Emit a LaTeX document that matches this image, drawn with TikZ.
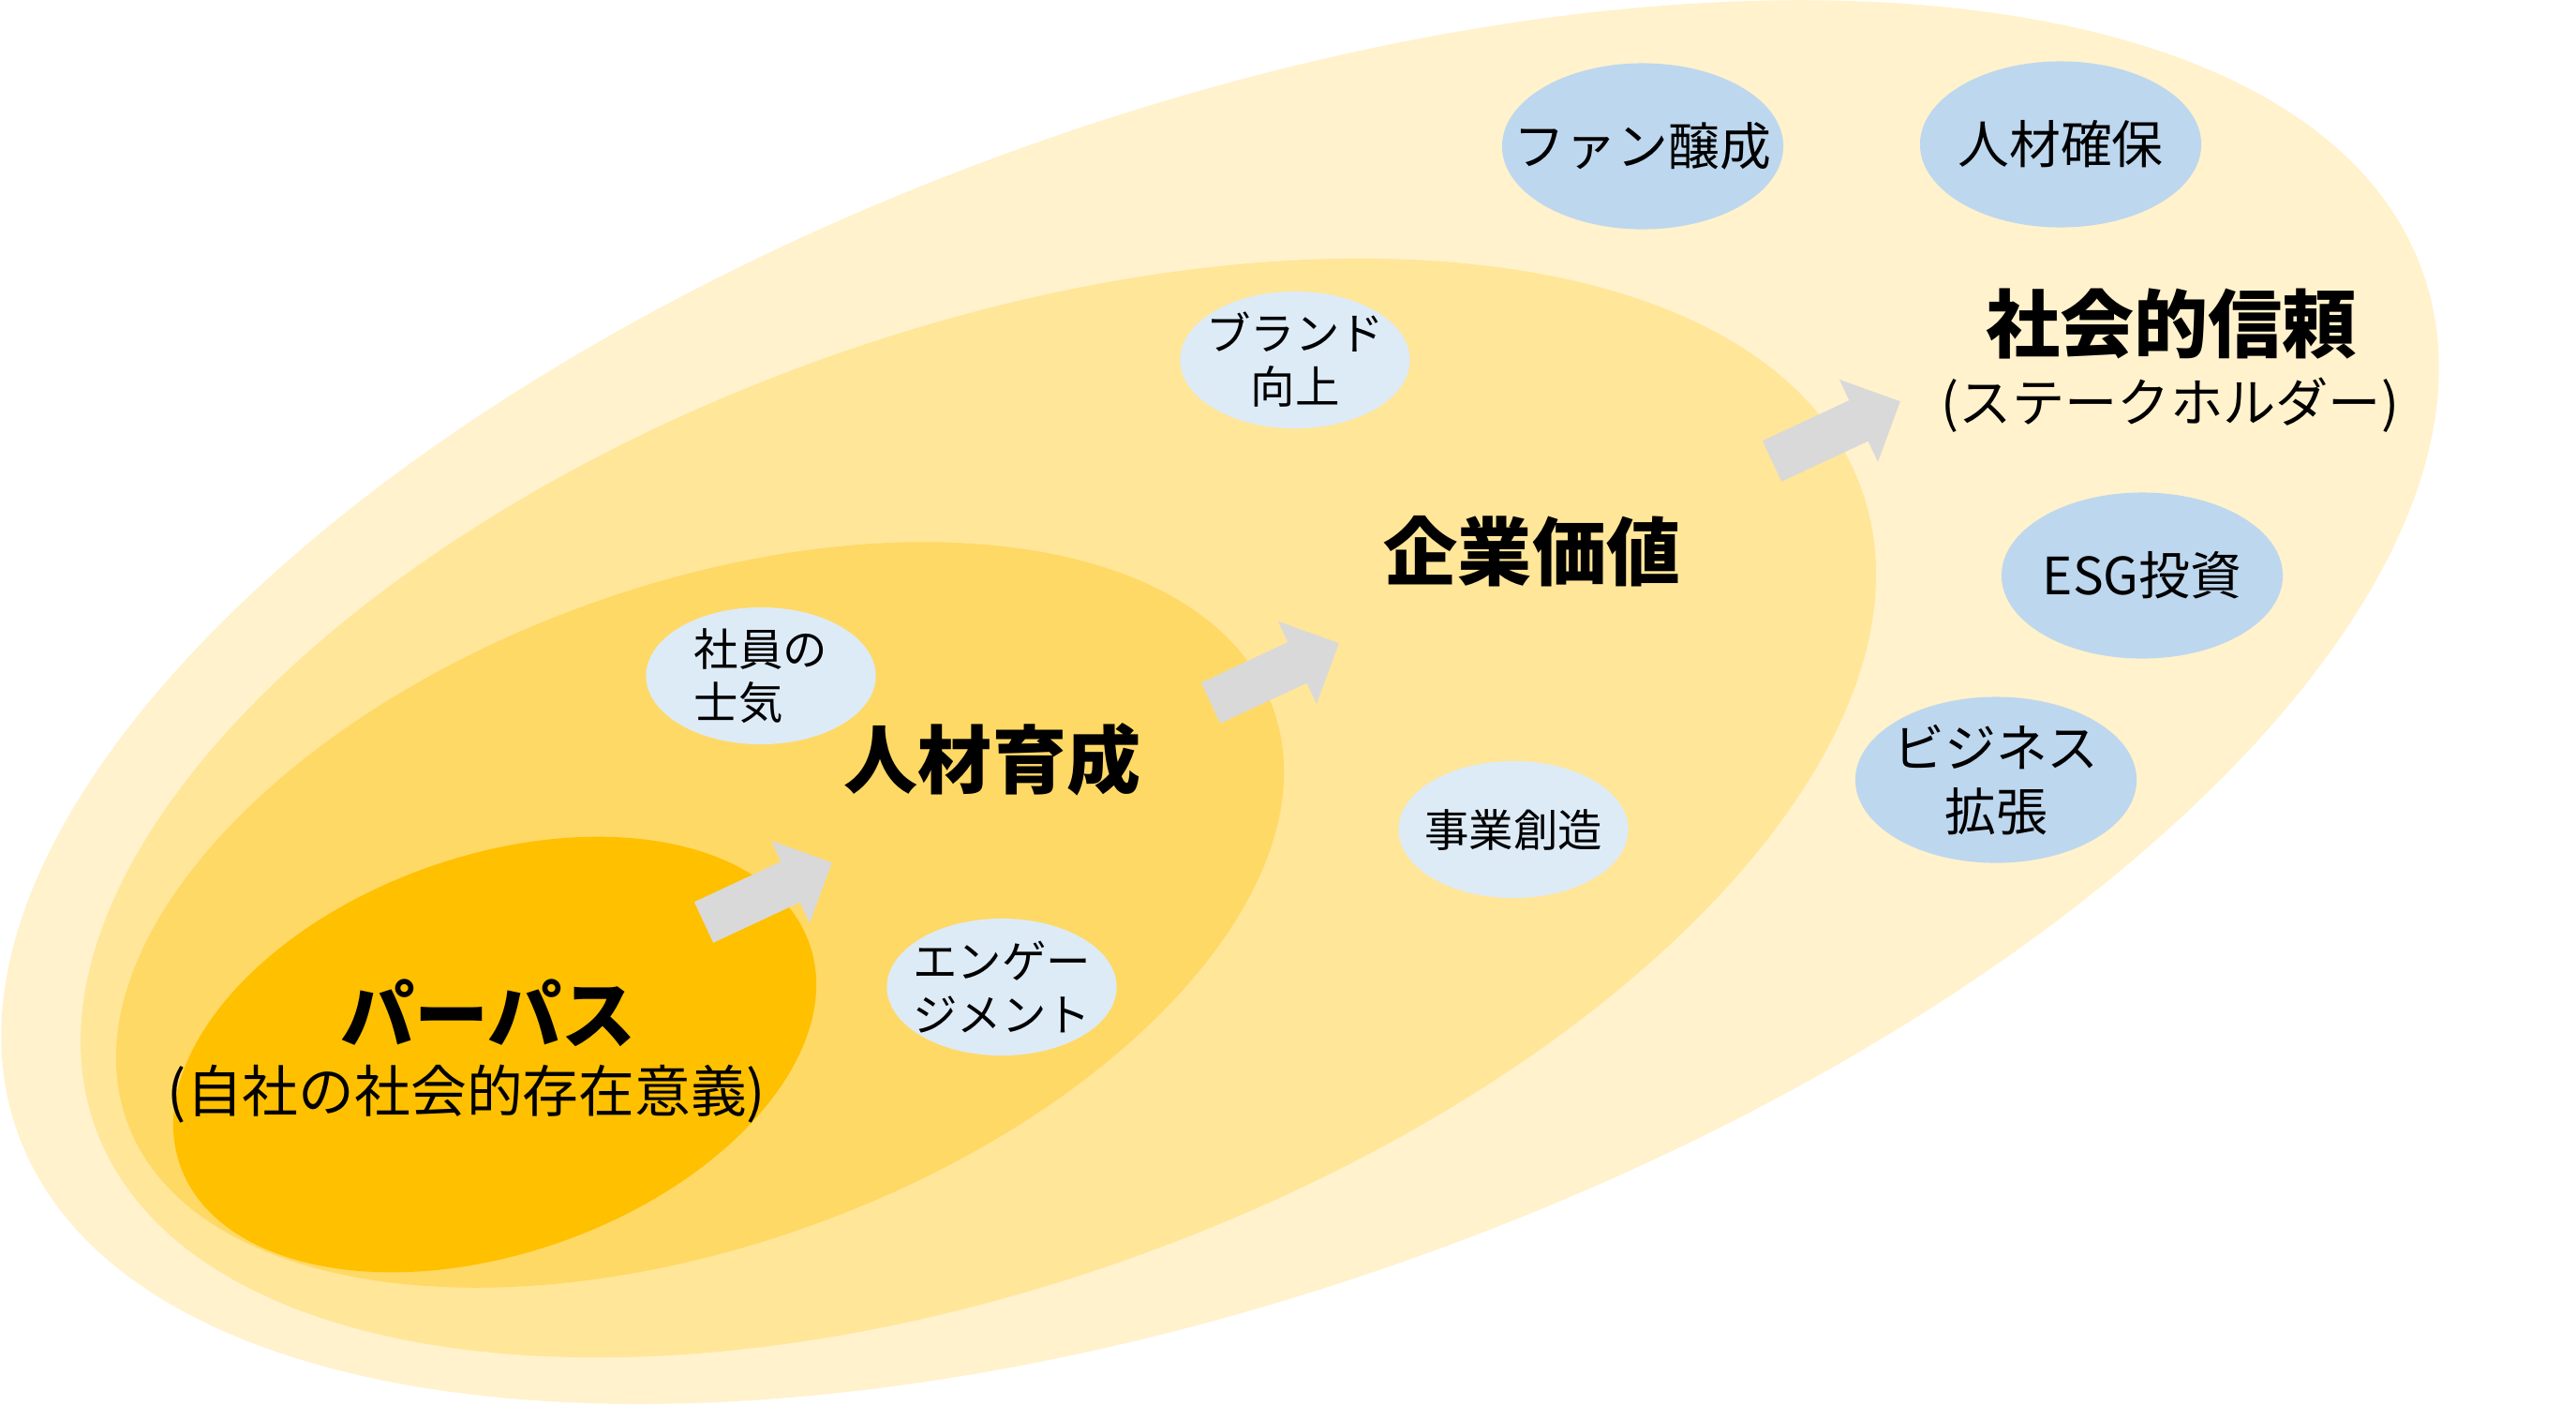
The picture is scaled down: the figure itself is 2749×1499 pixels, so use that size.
\documentclass[tikz,border=0pt]{standalone}
\usepackage{fontspec}
\setmainfont{Noto Sans CJK JP}
\usetikzlibrary{shapes.geometric}
\definecolor{ringA}{HTML}{FFF2CC}
\definecolor{ringB}{HTML}{FFE699}
\definecolor{ringC}{HTML}{FFD966}
\definecolor{ringD}{HTML}{FFC000}
\definecolor{blueO}{HTML}{BDD7EE}
\definecolor{blueI}{HTML}{DDEBF7}
\definecolor{arrowgray}{HTML}{D9D9D9}
\newcommand{\flowarrow}[2]{\fill[arrowgray, shift={(#1,#2)}, rotate=25] (0,-24) -- (102,-24) -- (102,-48.5) -- (151,0) -- (102,48.5) -- (102,24) -- (0,24) -- cycle;}
\begin{document}
\begin{tikzpicture}[x=0.01cm,y=-0.01cm,
  titletext/.style={inner sep=0pt, font=\bfseries\fontsize{22.5}{27}\selectfont},
  subtext/.style={inner sep=0pt},
  bubbleO/.style={ellipse, fill=blueO, inner sep=0pt, minimum width=3.0cm, minimum height=1.77cm},
  bubbleI/.style={ellipse, fill=blueI, inner sep=0pt, minimum width=2.45cm, minimum height=1.46cm},
  labelO/.style={inner sep=0pt, align=center, font=\fontsize{15.6}{19.3}\selectfont},
  labelI/.style={inner sep=0pt, align=center, font=\fontsize{13.5}{16.2}\selectfont}]
\useasboundingbox (0,0) rectangle (2749,1499);
% nested ellipses
\fill[ringA, rotate around={19.7:(1302,749)}] (1302,749) ellipse [x radius=1363, y radius=628];
\fill[ringB, rotate around={19.9:(1044,862)}] (1044,862) ellipse [x radius=1002, y radius=507];
\fill[ringC, rotate around={19.8:(747,976)}] (747,976) ellipse [x radius=650, y radius=352];
\fill[ringD, rotate around={19.4:(528,1125)}] (528,1125) ellipse [x radius=356, y radius=212];
% block arrows
\flowarrow{751}{984}
\flowarrow{1292}{750}
\flowarrow{1891}{492}
% outer bubbles
\node[bubbleO] (fan) at (1753,156) {};
\node[labelO] (fantext) at (fan) {ファン醸成};
\node[bubbleO] (talent) at (2199,154) {};
\node[labelO] (talenttext) at (talent) {人材確保};
\node[bubbleO] (esg) at (2286,614) {};
\node[labelO] (esgtext) at (esg) {ESG投資};
\node[bubbleO] (biz) at (2130,832) {};
\node[labelO] (biztext) at (biz) {ビジネス\\拡張};
% inner bubbles
\node[bubbleI] (brand) at (1382,384) {};
\node[labelI] (brandtext) at (brand) {ブランド\\向上};
\node[bubbleI] (morale) at (812,721) {};
\node[labelI, align=left] (moraletext) at (morale) {社員の\\士気};
\node[bubbleI] (newbiz) at (1615,885) {};
\node[labelI] (newbiztext) at (newbiz) {事業創造};
\node[bubbleI] (engage) at (1069,1053) {};
\node[labelI] (engagetext) at (engage) {エンゲー\\ジメント};
% titles
\node[titletext] (purpose) at (521,1081) {パーパス};
\node[subtext, font=\fontsize{17}{20}\selectfont] (purposesub) at (498,1167) {(自社の社会的存在意義)};
\node[titletext] (people) at (1059,810) {人材育成};
\node[titletext] (value) at (1635,588) {企業価値};
\node[titletext] (trust) at (2317,346) {社会的信頼};
\node[subtext, font=\fontsize{16}{19}\selectfont] (stake) at (2316,432) {(ステークホルダー)};
\end{tikzpicture}
\end{document}
